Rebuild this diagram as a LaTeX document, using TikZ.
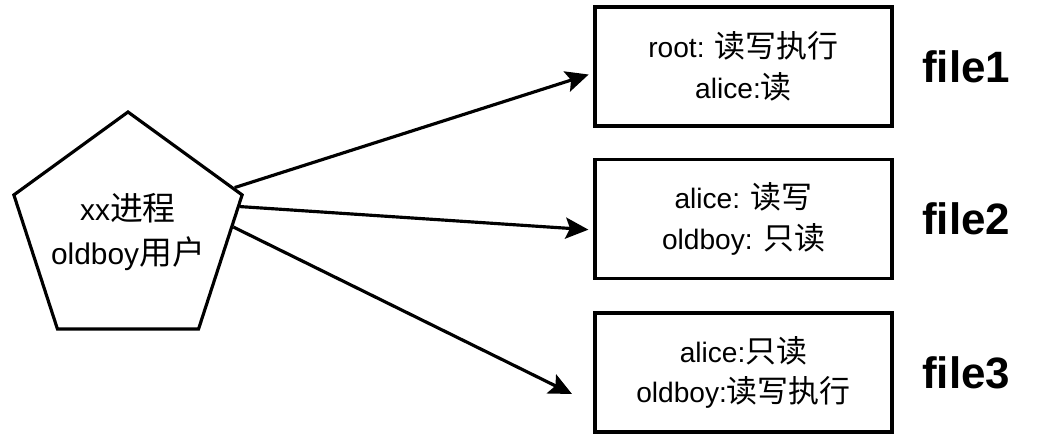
\documentclass[tikz,border=0pt]{standalone}
\usepackage{fontspec}
\setmainfont{Liberation Sans}
\newfontfamily\cjk{Noto Sans CJK SC}[Scale=1.1]
\usetikzlibrary{shapes.geometric,arrows.meta,calc,positioning}

\begin{document}
\begin{tikzpicture}[
    perm/.style={draw,line width=1.8pt,minimum width=5.94cm,minimum height=2.38cm,
                 align=center,font=\fontsize{16}{23}\selectfont},
    fname/.style={font=\fontsize{25}{30}\selectfont\bfseries},
    flow/.style={-{Stealth[length=13pt,width=12pt,inset=2.5pt]},line width=1.8pt}]
    \useasboundingbox (0,0) rectangle (20.76,-8.76);

    %process
    \node [regular polygon,regular polygon sides=5,draw,line width=1.8pt,
           minimum size=4.8cm,inner sep=0pt] (proc) at (2.56,-4.64) {};
    \node [align=center,font=\fontsize{17}{25}\selectfont] (proctxt) at (proc.center)
          {xx{\cjk 进程}\\oldboy{\cjk 用户}};

    %files
    \node [perm] (box1) at (14.87,-1.33) {root: {\cjk 读写执行}\\alice:{\cjk 读}};
    \node [perm] (box2) at (14.87,-4.38) {alice: {\cjk 读写}\\oldboy: {\cjk 只读}};
    \node [perm] (box3) at (14.87,-7.45) {alice:{\cjk 只读}\\oldboy:{\cjk 读写执行}};
    \node [fname,right=0.45cm of box1] (f1) {file1};
    \node [fname,right=0.45cm of box2] (f2) {file2};
    \node [fname,right=0.45cm of box3] (f3) {file3};

    % arrows
    \coordinate (tip3) at (11.44,-7.88);
    \draw [flow,shorten >=0.1cm] ($(proc.corner 5)!0.08!(proc.corner 1)$)
          -- ([yshift=-0.13cm]box1.west);
    \draw [flow,shorten >=0.1cm] ($(proc.corner 5)!0.09!(proc.corner 4)$)
          -- ([yshift=-0.22cm]box2.west);
    \draw [flow] ($(proc.corner 5)!0.24!(proc.corner 4)$) -- (tip3);
\end{tikzpicture}
\end{document}
